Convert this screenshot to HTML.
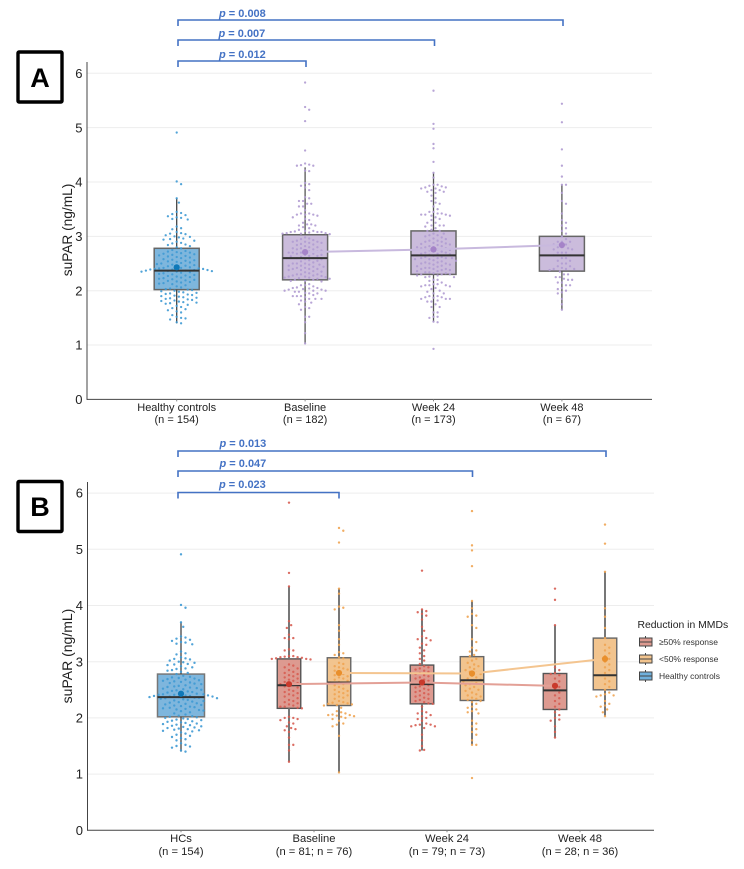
<!DOCTYPE html>
<html lang="en">
<head>
<meta charset="utf-8">
<title>suPAR by group</title>
<style>
html,body{margin:0;padding:0;background:#fff;}
svg{display:block;}
text{font-family:"Liberation Sans",sans-serif;}
</style>
</head>
<body>
<svg id="chart" xmlns="http://www.w3.org/2000/svg" width="744" height="869" viewBox="0 0 744 869">
  <rect x="0" y="0" width="744" height="869" fill="#fff"/>
  <g id="panel-a"></g>
  <g id="panel-b"></g>

  <g>
    <rect x="18" y="52" width="44" height="50" fill="#fff" stroke="#000" stroke-width="3.4" rx="1"/>
    <text x="40" y="87" font-size="27" font-weight="700" text-anchor="middle" fill="#000">A</text>
  </g>
  <g>
    <rect x="18" y="481.5" width="44" height="50" fill="#fff" stroke="#000" stroke-width="3.4" rx="1"/>
    <text x="40" y="516" font-size="27" font-weight="700" text-anchor="middle" fill="#000">B</text>
  </g>

  <g>
    <text x="637.5" y="628" font-size="10.4" fill="#222">Reduction in MMDs</text>
    <g>
      <line x1="645.5" x2="645.5" y1="636" y2="648" stroke="#444" stroke-width="1"/>
      <rect x="639.5" y="638" width="12.5" height="8" fill="#dd9a90" stroke="#444" stroke-width="1"/>
      <line x1="639.5" x2="652" y1="642" y2="642" stroke="#444" stroke-width="1"/>
      <text x="659" y="645" font-size="8.5" fill="#333">≥50% response</text>
    </g>
    <g>
      <line x1="645.5" x2="645.5" y1="653" y2="665" stroke="#444" stroke-width="1"/>
      <rect x="639.5" y="655" width="12.5" height="8" fill="#f2c48e" stroke="#444" stroke-width="1"/>
      <line x1="639.5" x2="652" y1="659" y2="659" stroke="#444" stroke-width="1"/>
      <text x="659" y="662" font-size="8.5" fill="#333">&lt;50% response</text>
    </g>
    <g>
      <line x1="645.5" x2="645.5" y1="670" y2="682" stroke="#444" stroke-width="1"/>
      <rect x="639.5" y="672" width="12.5" height="8" fill="#6fb0dc" stroke="#444" stroke-width="1"/>
      <line x1="639.5" x2="652" y1="676" y2="676" stroke="#444" stroke-width="1"/>
      <text x="659" y="679" font-size="8.5" fill="#333">Healthy controls</text>
    </g>
  </g>
</svg>

<script>
/* ---------- data ---------- */
const yTicks = [0, 1, 2, 3, 4, 5, 6];

const categoriesA = ['Healthy controls', 'Baseline', 'Week 24', 'Week 48'];
const countsA = ['(n = 154)', '(n = 182)', '(n = 173)', '(n = 67)'];
const categoriesB = ['HCs', 'Baseline', 'Week 24', 'Week 48'];
const countsB = ['(n = 154)', '(n = 81; n = 76)', '(n = 79; n = 73)', '(n = 28; n = 36)'];

const pValuesA = ['0.012', '0.007', '0.008'];
const pValuesB = ['0.023', '0.047', '0.013'];

const healthyValues = [4.91,4.01,3.96,3.70,3.62,3.45,3.43,3.41,3.39,3.37,3.35,3.34,3.32,3.31,3.18,3.15,3.13,3.08,3.06,3.05,3.04,3.02,3.00,2.99,2.98,2.96,2.95,2.94,2.92,2.90,2.88,2.87,2.85,2.84,2.82,2.80,2.78,2.75,2.73,2.72,2.71,2.70,2.69,2.68,2.67,2.66,2.65,2.64,2.63,2.62,2.61,2.60,2.58,2.57,2.56,2.55,2.54,2.53,2.52,2.51,2.50,2.49,2.48,2.47,2.46,2.45,2.44,2.43,2.42,2.42,2.41,2.41,2.40,2.40,2.39,2.39,2.38,2.38,2.37,2.37,2.36,2.36,2.35,2.35,2.34,2.33,2.32,2.31,2.30,2.29,2.28,2.27,2.26,2.25,2.24,2.23,2.22,2.21,2.20,2.19,2.18,2.17,2.16,2.15,2.14,2.13,2.12,2.10,2.08,2.06,2.04,2.03,2.02,2.01,2.00,1.99,1.98,1.97,1.96,1.95,1.94,1.93,1.92,1.91,1.90,1.89,1.88,1.87,1.86,1.85,1.84,1.83,1.82,1.81,1.80,1.79,1.78,1.77,1.76,1.74,1.72,1.70,1.68,1.66,1.64,1.62,1.60,1.55,1.52,1.50,1.49,1.47,1.42,1.40];

const baselineGe50 = [5.83,4.58,4.34,3.72,3.65,3.60,3.48,3.42,3.42,3.40,3.22,3.20,3.20,3.10,3.10,3.09,3.08,3.08,3.07,3.06,3.05,3.05,3.04,2.95,2.93,2.90,2.88,2.85,2.82,2.80,2.78,2.76,2.74,2.72,2.70,2.68,2.66,2.64,2.62,2.60,2.60,2.58,2.56,2.54,2.50,2.48,2.46,2.44,2.42,2.40,2.38,2.35,2.32,2.30,2.28,2.26,2.24,2.22,2.20,2.20,2.18,2.17,2.02,2.00,2.00,1.98,1.96,1.92,1.90,1.85,1.82,1.80,1.78,1.75,1.65,1.52,1.52,1.42,1.22];
const baselineLt50 = [5.38,5.33,5.12,4.30,4.21,3.98,3.96,3.93,3.65,3.55,3.40,3.30,3.17,3.15,3.12,3.08,3.06,2.98,2.96,2.92,2.90,2.88,2.86,2.84,2.80,2.78,2.76,2.74,2.72,2.70,2.68,2.66,2.64,2.63,2.60,2.58,2.55,2.52,2.50,2.48,2.46,2.44,2.42,2.40,2.38,2.36,2.34,2.30,2.28,2.27,2.26,2.25,2.24,2.23,2.22,2.18,2.12,2.10,2.08,2.06,2.05,2.05,2.04,2.03,2.02,2.00,1.98,1.95,1.90,1.88,1.85,1.68,1.03];
const baselineOther = [4.32,4.31,4.30,4.20,3.90,3.85,3.70,3.60,3.55,3.40,3.38,3.35,3.32,3.25,3.22,2.90,2.70,2.50,2.40,2.30,2.10,1.95,1.90,1.85,1.70];

const week24Ge50 = [4.62,3.93,3.90,3.88,3.85,3.82,3.75,3.62,3.55,3.45,3.42,3.40,3.38,3.32,3.30,3.25,3.20,3.15,3.10,3.05,3.02,2.96,2.92,2.90,2.88,2.86,2.84,2.82,2.80,2.78,2.76,2.74,2.72,2.70,2.68,2.66,2.64,2.62,2.60,2.60,2.58,2.56,2.54,2.52,2.50,2.48,2.46,2.44,2.42,2.40,2.38,2.36,2.34,2.32,2.30,2.28,2.26,2.25,2.20,2.12,2.10,2.08,2.05,2.03,2.00,1.98,1.95,1.90,1.88,1.88,1.87,1.85,1.85,1.82,1.70,1.60,1.50,1.43,1.42];
const week24Lt50 = [5.68,5.07,4.98,4.70,4.08,3.95,3.85,3.82,3.80,3.65,3.60,3.40,3.35,3.25,3.20,3.18,3.12,3.10,3.05,3.02,2.98,2.95,2.92,2.90,2.87,2.85,2.82,2.80,2.78,2.75,2.72,2.70,2.68,2.67,2.65,2.62,2.60,2.58,2.55,2.52,2.50,2.48,2.45,2.42,2.40,2.38,2.36,2.34,2.32,2.30,2.28,2.25,2.20,2.18,2.15,2.12,2.10,2.08,1.95,1.90,1.85,1.80,1.75,1.70,1.60,1.52,1.52,0.93];
const week24Other = [4.37,4.17,3.95,3.92,3.90,3.88,3.70,3.50,3.45,3.42,3.40,3.38,3.20,3.00,2.80,2.60,2.50,2.40,2.30,2.10,1.80];

const week48Ge50 = [4.30,4.10,3.65,2.90,2.85,2.80,2.78,2.76,2.70,2.65,2.60,2.55,2.50,2.45,2.40,2.35,2.30,2.25,2.20,2.15,2.10,2.05,2.00,1.97,1.95,1.85,1.75,1.65];
const week48Lt50 = [5.44,5.10,4.60,3.95,3.80,3.60,3.42,3.30,3.25,3.20,3.15,3.10,3.05,3.00,2.95,2.90,2.85,2.80,2.76,2.70,2.65,2.60,2.55,2.50,2.45,2.42,2.40,2.40,2.38,2.30,2.25,2.22,2.20,2.15,2.10,2.03];
const week48Other = [3.95,2.90,2.70];

/* box statistics: [healthy, baseline, week24, week48] */
const q1A = [2.02, 2.20, 2.30, 2.36];
const medianA = [2.37, 2.60, 2.65, 2.65];
const q3A = [2.78, 3.03, 3.10, 3.00];
const meanA = [2.43, 2.71, 2.76, 2.84];
const whiskerLowA = [1.40, 1.03, 1.43, 1.65];
const whiskerHighA = [3.70, 4.27, 4.17, 3.95];

/* panel B: [baseline, week24, week48] */
const q1Ge50 = [2.17, 2.25, 2.15];
const medianGe50 = [2.58, 2.60, 2.49];
const q3Ge50 = [3.05, 2.94, 2.79];
const meanGe50 = [2.60, 2.63, 2.57];
const whiskerLowGe50 = [1.22, 1.42, 1.65];
const whiskerHighGe50 = [4.34, 3.93, 3.65];

const q1Lt50 = [2.22, 2.31, 2.50];
const medianLt50 = [2.63, 2.67, 2.76];
const q3Lt50 = [3.07, 3.09, 3.42];
const meanLt50 = [2.80, 2.79, 3.05];
const whiskerLowLt50 = [1.03, 1.52, 2.03];
const whiskerHighLt50 = [4.30, 4.08, 4.60];

/* ---------- drawing helpers ---------- */
const NS = 'http://www.w3.org/2000/svg';

function make(parent, tag, name, attrs) {
  const el = document.createElementNS(NS, tag);
  
  
  for (const k in attrs) el.setAttribute(k, attrs[k]);
  parent.appendChild(el);
  return el;
}

function swarmOffsets(values, yScale, gap) {
  const order = values.map((v, i) => i).sort((a, b) => values[b] - values[a]);
  const placed = [];
  const out = new Array(values.length);
  order.forEach(i => {
    const py = yScale(values[i]);
    let dx = 0;
    for (let step = 0; step < 80; step++) {
      const mag = Math.ceil(step / 2) * (gap / 2);
      dx = step % 2 ? mag : -mag;
      const clash = placed.some(p => {
        const a = p.x - dx, b = p.y - py;
        return a * a + b * b < gap * gap;
      });
      if (!clash) break;
    }
    placed.push({ x: dx, y: py });
    out[i] = dx;
  });
  return out;
}

function drawBox(g, key, cx, width, s, yScale, style) {
  const group = make(g, 'g', key + '-group', {});
  make(group, 'rect', key + '-box', {
    x: cx - width / 2, y: yScale(s.q3), width: width, height: yScale(s.q1) - yScale(s.q3),
    fill: style.fill, stroke: style.boxStroke, 'stroke-width': style.boxWidth
  });
  make(group, 'line', key + '-upper-whisker', {
    x1: cx, x2: cx, y1: yScale(s.q3), y2: yScale(s.hi), stroke: style.whisker, 'stroke-width': style.whiskerWidth
  });
  make(group, 'line', key + '-lower-whisker', {
    x1: cx, x2: cx, y1: yScale(s.q1), y2: yScale(s.lo), stroke: style.whisker, 'stroke-width': style.whiskerWidth
  });
  const offs = swarmOffsets(s.values, yScale, style.gap);
  s.values.forEach((v, i) => {
    make(group, 'circle', key + '-point', {
      cx: cx + offs[i], cy: yScale(v), r: style.dotR, fill: style.dot, 'fill-opacity': 0.9
    });
  });
  make(group, 'line', key + '-median', {
    x1: cx - width / 2, x2: cx + width / 2, y1: yScale(s.median), y2: yScale(s.median),
    stroke: '#333', 'stroke-width': 2
  });
}

function drawMeanLine(g, key, xs, means, yScale, color, markerColor) {
  make(g, 'polyline', key + '-mean-line', {
    points: means.map((m, i) => xs[i] + ',' + yScale(m)).join(' '),
    fill: 'none', stroke: color, 'stroke-width': 2
  });
  means.forEach((m, i) => {
    make(g, 'circle', key + '-mean-marker', { cx: xs[i], cy: yScale(m), r: 3.1, fill: markerColor });
  });
}

function drawAxes(g, prefix, cfg) {
  yTicks.forEach(t => {
    const y = cfg.yScale(t);
    if (t > 0) {
      make(g, 'line', prefix + '-gridline-' + t, {
        x1: cfg.left, x2: cfg.right, y1: y, y2: y, stroke: '#ededed', 'stroke-width': 1
      });
    }
    const label = make(g, 'text', prefix + '-y-tick-' + t, {
      x: cfg.left - 4.5, y: y + 4.6, 'font-size': 13, 'text-anchor': 'end', fill: '#222'
    });
    label.textContent = String(t);
  });
  make(g, 'line', prefix + '-y-axis', {
    x1: cfg.left, x2: cfg.left, y1: cfg.top, y2: cfg.yScale(0) + 0.5, stroke: '#444', 'stroke-width': 1
  });
  make(g, 'line', prefix + '-x-axis', {
    x1: cfg.left, x2: cfg.right, y1: cfg.yScale(0), y2: cfg.yScale(0), stroke: '#444', 'stroke-width': 1
  });
  cfg.categories.forEach((c, i) => {
    const x = cfg.xScale(i);
    make(g, 'line', prefix + '-x-tick-' + i, {
      x1: x, x2: x, y1: cfg.yScale(0), y2: cfg.yScale(0) + 2, stroke: '#888', 'stroke-width': 1
    });
    const l1 = make(g, 'text', prefix + '-x-label-' + i, {
      x: x, y: cfg.labelY1, 'font-size': cfg.labelSize, 'text-anchor': 'middle', fill: '#222'
    });
    l1.textContent = c;
    const l2 = make(g, 'text', prefix + '-x-count-' + i, {
      x: x, y: cfg.labelY2, 'font-size': cfg.labelSize, 'text-anchor': 'middle', fill: '#222'
    });
    l2.textContent = cfg.counts[i];
  });
  const title = make(g, 'text', prefix + '-y-axis-title', {
    x: 0, y: 0, 'font-size': cfg.titleSize, 'text-anchor': 'middle', fill: '#222',
    transform: 'translate(' + cfg.titleX + ',' + cfg.titleY + ') rotate(-90)'
  });
  title.textContent = 'suPAR (ng/mL)';
}

function drawBracket(g, key, x1, x2, y, labelY, labelX, value) {
  make(g, 'path', key + '-bracket', {
    d: 'M' + x1 + ' ' + (y + 6) + 'V' + y + 'H' + x2 + 'V' + (y + 6),
    fill: 'none', stroke: '#4472c4', 'stroke-width': 1.6
  });
  const t = make(g, 'text', key + '-label', {
    x: labelX, y: labelY, 'font-size': 11, 'font-weight': 700, fill: '#4472c4'
  });
  const it = document.createElementNS(NS, 'tspan');
  it.setAttribute('font-style', 'italic');
  it.textContent = 'p';
  t.appendChild(it);
  t.appendChild(document.createTextNode(' = ' + value));
}

/* ---------- panel A ---------- */
(function () {
  const g = document.getElementById('panel-a');
  const yScale = v => 399.4 - v * 54.35;
  const xScale = i => 176.7 + i * 128.4;
  drawAxes(g, 'panel-a', {
    yScale: yScale, xScale: xScale, left: 87, right: 652, top: 62,
    categories: categoriesA, counts: countsA, labelY1: 411, labelY2: 423, labelSize: 11,
    titleSize: 13.7, titleX: 72, titleY: 230
  });
  const series = [
    healthyValues,
    baselineGe50.concat(baselineLt50, baselineOther),
    week24Ge50.concat(week24Lt50, week24Other),
    week48Ge50.concat(week48Lt50, week48Other)
  ];
  const blue = { fill: '#7eb6dd', boxStroke: '#666', boxWidth: 1.5, whisker: '#444', whiskerWidth: 1.3, gap: 4.4, dotR: 1.15, dot: '#3f9ad4' };
  const purple = { fill: '#cbbcdc', boxStroke: '#666', boxWidth: 1.5, whisker: '#555', whiskerWidth: 1.3, gap: 4.1, dotR: 1.15, dot: '#b09bd2' };
  series.forEach((values, i) => {
    drawBox(g, 'panel-a-' + categoriesA[i].toLowerCase().replace(/ /g, '-'), xScale(i), 45, {
      values: values, q1: q1A[i], q3: q3A[i], median: medianA[i], lo: whiskerLowA[i], hi: whiskerHighA[i]
    }, yScale, i === 0 ? blue : purple);
  });
  drawMeanLine(g, 'panel-a-treated', [1, 2, 3].map(xScale), meanA.slice(1), yScale, '#c8b9de', '#a583c8');
  make(g, 'circle', 'panel-a-healthy-mean-marker', { cx: xScale(0), cy: yScale(meanA[0]), r: 3.1, fill: '#0f78b8' });
  drawBracket(g, 'panel-a-p-week48', 178, 563, 20, 17, 219, pValuesA[2]);
  drawBracket(g, 'panel-a-p-week24', 178, 434.5, 40, 37, 218.5, pValuesA[1]);
  drawBracket(g, 'panel-a-p-baseline', 178, 306, 61, 58, 219, pValuesA[0]);
})();

/* ---------- panel B ---------- */
(function () {
  const g = document.getElementById('panel-b');
  const yScale = v => 830.3 - v * 56.2;
  const xScale = i => 181 + i * 133;
  const dodge = 25;
  const boxWidth = 23.5;
  drawAxes(g, 'panel-b', {
    yScale: yScale, xScale: xScale, left: 87.5, right: 654, top: 482,
    categories: categoriesB, counts: countsB, labelY1: 842, labelY2: 855, labelSize: 11.2,
    titleSize: 14, titleX: 72, titleY: 656
  });
  const blue = { fill: '#7eb6dd', boxStroke: '#777', boxWidth: 1.5, whisker: '#444', whiskerWidth: 1.3, gap: 4.5, dotR: 1.2, dot: '#3f9ad4' };
  const red = { fill: '#dd9a90', boxStroke: '#555', boxWidth: 1.4, whisker: '#777', whiskerWidth: 2, gap: 4.3, dotR: 1.2, dot: '#d75d52' };
  const orange = { fill: '#f2c48e', boxStroke: '#666', boxWidth: 1.4, whisker: '#777', whiskerWidth: 2, gap: 4.3, dotR: 1.2, dot: '#efa452' };

  drawBox(g, 'panel-b-hcs', xScale(0), 47, {
    values: healthyValues, q1: q1A[0], q3: q3A[0], median: medianA[0], lo: whiskerLowA[0], hi: whiskerHighA[0]
  }, yScale, blue);
  make(g, 'circle', 'panel-b-hcs-mean-marker', { cx: xScale(0), cy: yScale(meanA[0]), r: 3.1, fill: '#0f78b8' });

  const ge50 = [baselineGe50, week24Ge50, week48Ge50];
  const lt50 = [baselineLt50, week24Lt50, week48Lt50];
  const timeKeys = ['baseline', 'week24', 'week48'];
  ge50.forEach((values, i) => {
    drawBox(g, 'panel-b-ge50-' + timeKeys[i], xScale(i + 1) - dodge, boxWidth, {
      values: values, q1: q1Ge50[i], q3: q3Ge50[i], median: medianGe50[i], lo: whiskerLowGe50[i], hi: whiskerHighGe50[i]
    }, yScale, red);
  });
  lt50.forEach((values, i) => {
    drawBox(g, 'panel-b-lt50-' + timeKeys[i], xScale(i + 1) + dodge, boxWidth, {
      values: values, q1: q1Lt50[i], q3: q3Lt50[i], median: medianLt50[i], lo: whiskerLowLt50[i], hi: whiskerHighLt50[i]
    }, yScale, orange);
  });
  drawMeanLine(g, 'panel-b-ge50', [1, 2, 3].map(i => xScale(i) - dodge), meanGe50, yScale, '#e3a096', '#c93a2c');
  drawMeanLine(g, 'panel-b-lt50', [1, 2, 3].map(i => xScale(i) + dodge), meanLt50, yScale, '#f4c590', '#e98f2c');

  drawBracket(g, 'panel-b-p-week48', 178, 606, 451, 447, 219.5, pValuesB[2]);
  drawBracket(g, 'panel-b-p-week24', 178, 472.5, 471, 467, 219.5, pValuesB[1]);
  drawBracket(g, 'panel-b-p-baseline', 178, 339, 492.5, 488, 219, pValuesB[0]);
})();
</script>
</body>
</html>
